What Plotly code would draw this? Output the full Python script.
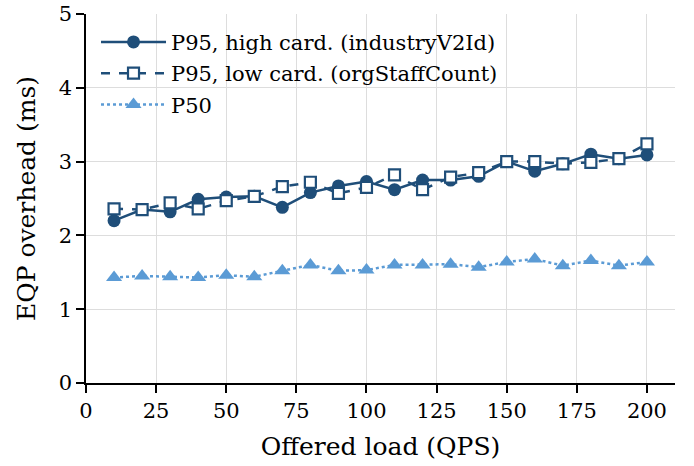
import plotly.graph_objects as go

qps = [10, 20, 30, 40, 50, 60, 70, 80, 90, 100, 110, 120, 130, 140, 150, 160, 170, 180, 190, 200]
p95_high = [2.20, 2.35, 2.32, 2.49, 2.52, 2.53, 2.38, 2.58, 2.67, 2.73, 2.62, 2.75, 2.75, 2.80, 3.00, 2.87, 2.97, 3.10, 3.04, 3.09]
p95_low = [2.36, 2.35, 2.44, 2.36, 2.47, 2.53, 2.66, 2.72, 2.57, 2.65, 2.82, 2.62, 2.79, 2.85, 3.00, 3.00, 2.97, 2.99, 3.04, 3.24]
p50 = [1.43, 1.45, 1.44, 1.43, 1.46, 1.44, 1.52, 1.60, 1.52, 1.53, 1.60, 1.60, 1.61, 1.57, 1.64, 1.68, 1.59, 1.66, 1.59, 1.64]

dark = "#1f4e79"
light = "#5b9bd5"
font = "DejaVu Serif"

fig = go.Figure()
fig.add_trace(go.Scatter(x=qps, y=p95_high, mode="lines+markers",
                         name="P95, high card. (industryV2Id)", legendgroup="a",
                         line=dict(color=dark, width=2.5),
                         marker=dict(symbol="circle", size=13, color=dark)))
fig.add_trace(go.Scatter(x=qps, y=p95_low, mode="lines+markers",
                         name="P95, low card. (orgStaffCount)", legendgroup="b",
                         line=dict(color=dark, width=2.5, dash="dash"),
                         marker=dict(symbol="square", size=11, color="white",
                                     line=dict(color=dark, width=2.2))))
fig.add_trace(go.Scatter(x=qps, y=p50, mode="lines+markers",
                         name="P50", legendgroup="c",
                         line=dict(color=light, width=2.5, dash="dot"),
                         marker=dict(symbol="triangle-up", size=14, color=light)))

fig.update_layout(
    width=694, height=466,
    margin=dict(l=86, r=19, t=14, b=83),
    paper_bgcolor="white", plot_bgcolor="white",
    font=dict(family=font, size=21, color="black"),
    showlegend=True,
    legend=dict(x=0.017, y=0.979, xanchor="left", yanchor="top",
                bgcolor="rgba(0,0,0,0)", font=dict(size=21, family=font, color="black"),
                tracegroupgap=1, itemwidth=65),
)
fig.update_xaxes(range=[0, 210], tickvals=[0, 25, 50, 75, 100, 125, 150, 175, 200],
                 automargin=False,
                 showgrid=True, gridcolor="#dddddd", gridwidth=1,
                 showline=True, linecolor="black", linewidth=1.5,
                 ticks="outside", ticklen=8, tickwidth=1.5, tickcolor="black",
                 zeroline=False, tickfont=dict(size=21),
                 title=dict(text="Offered load (QPS)", font=dict(size=25, family=font), standoff=16))
fig.update_yaxes(range=[0, 5], tickvals=[0, 1, 2, 3, 4, 5],
                 automargin=False,
                 showgrid=True, gridcolor="#dddddd", gridwidth=1,
                 showline=True, linecolor="black", linewidth=1.5,
                 ticks="outside", ticklen=8, tickwidth=1.5, tickcolor="black",
                 zeroline=False, tickfont=dict(size=21),
                 title=dict(text="EQP overhead (ms)", font=dict(size=25, family=font), standoff=16))

fig.write_html("out.html", config={"displayModeBar": False},
               post_script="document.body.style.margin='0';")
